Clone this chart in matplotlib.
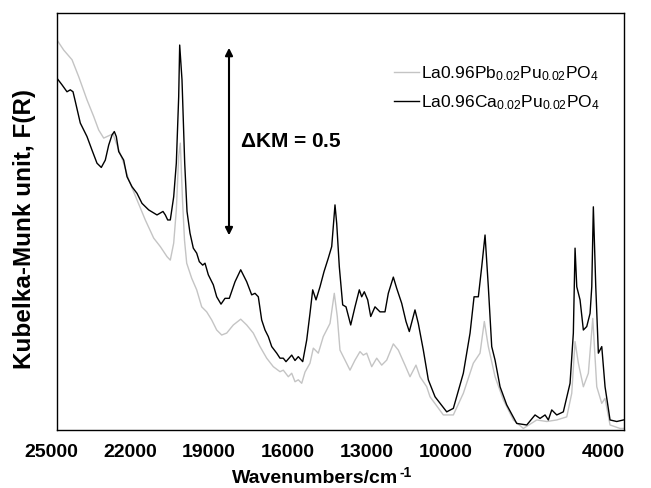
import matplotlib
matplotlib.use("Agg")
import matplotlib.pyplot as plt
import matplotlib.transforms as mtransforms

plt.rcParams['font.family'] = ['Liberation Sans', 'DejaVu Sans']
plt.rcParams['mathtext.fontset'] = 'custom'
plt.rcParams['mathtext.rm'] = 'Liberation Sans'
plt.rcParams['mathtext.it'] = 'Liberation Sans'
plt.rcParams['mathtext.bf'] = 'Liberation Sans:bold'

# La0.96Ca0.02Pu0.02PO4 (black)
ca_wn = [24772, 24582, 24392, 24266, 24163, 24076, 23886, 23631, 23441, 23251, 23087, 22935,
         22805, 22680, 22592, 22516, 22425, 22235, 22109, 21919, 21729, 21539, 21284, 20968,
         20740, 20652, 20561, 20462, 20333, 20233, 20143, 20105, 20017, 19914, 19826, 19713,
         19587, 19458, 19359, 19230, 19142, 19016, 18826, 18697, 18533, 18381, 18218, 18000,
         17784, 17556, 17366, 17240, 17114, 16986, 16859, 16734, 16604, 16414, 16289, 16164,
         16061, 15843, 15718, 15593, 15425, 15273, 15148, 15045, 14919, 14767, 14615, 14452,
         14322, 14197, 14132, 14033, 13904, 13778, 13599, 13436, 13272, 13181, 13082, 12953,
         12838, 12675, 12485, 12295, 12169, 11978, 11850, 11659, 11496, 11370, 11154, 11028,
         10837, 10647, 10391, 9947, 9695, 9315, 9059, 8907, 8744, 8615, 8489, 8364, 8235,
         8108, 7918, 7664, 7284, 6902, 6587, 6397, 6206, 6081, 5952, 5761, 5511, 5255, 5130,
         5065, 5000, 4875, 4749, 4620, 4494, 4429, 4369, 4277, 4178, 4049, 3924, 3734, 3479,
         3227]
ca_km = [0.911, 0.894, 0.876, 0.881, 0.876, 0.851, 0.795, 0.760, 0.725, 0.691, 0.680, 0.699,
         0.738, 0.764, 0.773, 0.760, 0.721, 0.699, 0.656, 0.630, 0.613, 0.587, 0.570, 0.557,
         0.566, 0.557, 0.544, 0.544, 0.604, 0.691, 0.863, 0.997, 0.907, 0.691, 0.566, 0.510,
         0.471, 0.458, 0.436, 0.427, 0.432, 0.402, 0.376, 0.345, 0.326, 0.341, 0.341, 0.384,
         0.415, 0.384, 0.350, 0.354, 0.345, 0.285, 0.259, 0.242, 0.216, 0.199, 0.186, 0.186,
         0.177, 0.194, 0.180, 0.190, 0.177, 0.233, 0.302, 0.363, 0.337, 0.371, 0.410, 0.445,
         0.475, 0.583, 0.535, 0.423, 0.324, 0.319, 0.272, 0.319, 0.363, 0.345, 0.358, 0.337,
         0.294, 0.319, 0.306, 0.306, 0.354, 0.396, 0.367, 0.328, 0.281, 0.255, 0.311, 0.276,
         0.207, 0.130, 0.086, 0.047, 0.056, 0.147, 0.251, 0.345, 0.345, 0.423, 0.505, 0.371,
         0.216, 0.181, 0.112, 0.065, 0.017, 0.013, 0.039, 0.030, 0.039, 0.026, 0.052, 0.039,
         0.047, 0.121, 0.251, 0.471, 0.371, 0.337, 0.259, 0.268, 0.302, 0.371, 0.578, 0.371,
         0.199, 0.216, 0.112, 0.026, 0.022, 0.026]

# La0.96Pb0.02Pu0.02PO4 (grey)
pb_wn = [24772, 24517, 24201, 23946, 23631, 23376, 23186, 22995, 22805, 22642, 22490, 22235,
         22044, 21729, 21413, 21094, 20842, 20588, 20462, 20333, 20233, 20143, 20081, 19998,
         19922, 19838, 19648, 19458, 19268, 19078, 18887, 18697, 18507, 18317, 18065, 17784,
         17556, 17305, 17049, 16795, 16544, 16289, 16164, 15973, 15843, 15718, 15593, 15463,
         15338, 15148, 15022, 14832, 14642, 14387, 14224, 14110, 14007, 13816, 13626, 13436,
         13246, 13121, 12991, 12800, 12610, 12420, 12230, 11978, 11788, 11534, 11344, 11116,
         10964, 10708, 10582, 10076, 9695, 9315, 8935, 8680, 8516, 8364, 8108, 7793, 7412,
         7032, 6522, 6142, 5761, 5381, 5191, 5065, 4939, 4749, 4559, 4391, 4239, 4049, 3924,
         3734, 3353, 3203]
pb_km = [1.010, 0.984, 0.959, 0.915, 0.855, 0.812, 0.777, 0.756, 0.762, 0.767, 0.738, 0.691,
         0.648, 0.596, 0.544, 0.497, 0.475, 0.449, 0.440, 0.484, 0.570, 0.708, 0.743, 0.596,
         0.492, 0.432, 0.393, 0.363, 0.319, 0.306, 0.285, 0.259, 0.246, 0.251, 0.272, 0.287,
         0.272, 0.251, 0.216, 0.186, 0.164, 0.151, 0.155, 0.138, 0.147, 0.125, 0.130, 0.121,
         0.150, 0.173, 0.212, 0.199, 0.242, 0.276, 0.354, 0.294, 0.207, 0.181, 0.155, 0.181,
         0.203, 0.194, 0.199, 0.164, 0.186, 0.168, 0.181, 0.223, 0.207, 0.168, 0.138, 0.168,
         0.138, 0.112, 0.086, 0.039, 0.039, 0.095, 0.173, 0.199, 0.281, 0.216, 0.138, 0.078,
         0.026, 0.004, 0.026, 0.022, 0.026, 0.034, 0.095, 0.229, 0.173, 0.112, 0.147, 0.289,
         0.112, 0.069, 0.082, 0.013, 0.004, 0.004]

xticks = [25000, 22000, 19000, 16000, 13000, 10000, 7000, 4000]
labels = [r'La0.96Pb$_{0.02}$Pu$_{0.02}$PO$_4$', r'La0.96Ca$_{0.02}$Pu$_{0.02}$PO$_4$']

W, H = 651, 488
fig = plt.figure(figsize=(W / 100, H / 100), dpi=100)
ax = fig.add_axes([57 / W, 1 - 430 / H, (624 - 57) / W, (430 - 13) / H])

ax.plot(pb_wn, pb_km, color='#c4c4c4', lw=1.0, label=labels[0])
ax.plot(ca_wn, ca_km, color='black', lw=1.0, label=labels[1])

ax.set_xlim(24772, 3203)
ax.set_ylim(0, 1.080)
ax.set_xticks([])
ax.set_yticks([])
for s in ax.spines.values():
    s.set_linewidth(1.0)

# tick labels (the first one lies just left of the plotted range)
trans = mtransforms.blended_transform_factory(ax.transData, ax.transAxes)
for t in xticks:
    ax.text(t, -0.034, str(t), transform=trans, ha='center', va='top',
            fontsize=14, fontweight='bold', clip_on=False)

ax.set_xlabel('Wavenumbers/cm', fontsize=14, fontweight='bold')
ax.xaxis.set_label_coords(0.455, -0.097)
fig.text(25 / W, 1 - 229 / H, 'Kubelka-Munk unit, F(R)', fontsize=17.5, fontweight='bold',
         rotation=90, ha='center', va='center')

ax.annotate('', xy=(18229, 0.997), xytext=(18229, 0.497),
            arrowprops=dict(arrowstyle='<|-|>', color='black', lw=1.5, mutation_scale=11))
ax.text(17810, 0.748, r'$\mathbf{\Delta}$KM = 0.5', fontsize=15, fontweight='bold',
        va='center', ha='left')

leg = ax.legend(loc='upper left', bbox_to_anchor=((394 - 57) / 567, 1 - (64 - 13) / 417),
                frameon=False, fontsize=12.5, borderpad=0, borderaxespad=0,
                handlelength=1.45, handletextpad=0.12, labelspacing=0.62)

# superscript after x label
fig.canvas.draw()
bb = ax.xaxis.label.get_window_extent()
fig.text((bb.x1 + 1) / W, (bb.y1 + 4) / H, '-1', fontsize=10, fontweight='bold',
         ha='left', va='top')

fig.savefig('out.png', dpi=100)
